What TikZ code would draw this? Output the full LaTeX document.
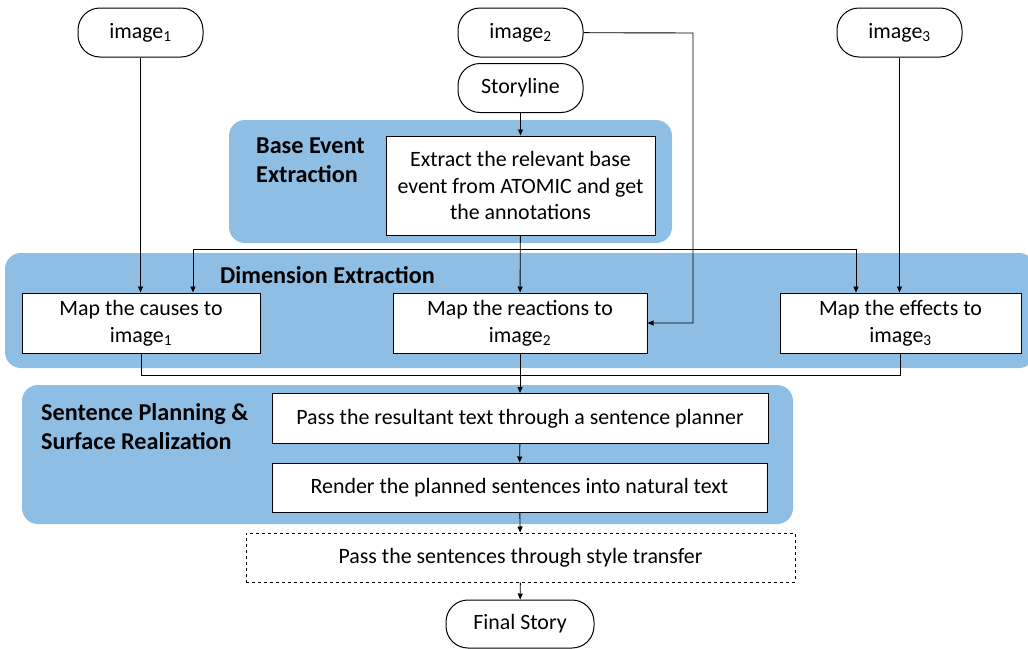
\documentclass[tikz,border=0pt]{standalone}
\usepackage{fontspec}
\setmainfont{Carlito}
\usetikzlibrary{arrows.meta}
\definecolor{regblue}{RGB}{142,190,228}
\tikzset{
  base/.style={font=\fontsize{21.9}{26.6}\selectfont, align=center, inner sep=0pt, line width=1pt},
  pill/.style={base, draw, fill=white, rounded corners=22pt, minimum width=125pt, minimum height=49pt},
  stepbox/.style={base, draw, fill=white},
  region/.style={fill=regblue, rounded corners=16pt, inner sep=0pt},
  lbl/.style={font=\fontsize{24.2}{29}\selectfont\bfseries, align=left, inner sep=0pt},
  arr/.style={line width=0.9pt, -{Triangle[length=6pt,width=5pt]}},
  ln/.style={line width=0.9pt}
}
\newcommand{\sub}[1]{\textsubscript{#1}}
\begin{document}
\begin{tikzpicture}[x=1pt,y=-1pt]
\useasboundingbox (0,0) rectangle (1028,648);
% regions
\node[region, minimum width=443pt, minimum height=123pt] (rbase) at (450.5,181.5) {};
\node[region, minimum width=1030pt, minimum height=115pt] (rdim) at (520,310.5) {};
\node[region, minimum width=771pt, minimum height=139pt] (rsent) at (407.5,454.5) {};
% region labels
\node[lbl, anchor=west] (lbase) at (256,160.5) {Base Event\\Extraction};
\node[lbl] (ldim) at (327.5,275) {Dimension Extraction};
\node[lbl, anchor=west] (lsent) at (41,427) {Sentence Planning \&\\Surface Realization};
% top pills
\node[pill] (img1) at (140.5,32.5) {image\sub{1}};
\node[pill] (img2) at (520.5,32.5) {image\sub{2}};
\node[pill] (img3) at (899.5,32.5) {image\sub{3}};
\node[pill] (story) at (520.5,88) {Storyline};
% boxes
\node[stepbox, minimum width=269pt, minimum height=99pt] (extract) at (520.5,185.5) {Extract the relevant base\\event from ATOMIC and get\\the annotations};
\node[stepbox, minimum width=238pt, minimum height=60pt] (causes) at (141,323) {Map the causes to\\image\sub{1}};
\node[stepbox, minimum width=254pt, minimum height=60pt] (reactions) at (520,323) {Map the reactions to\\image\sub{2}};
\node[stepbox, minimum width=241pt, minimum height=60pt] (effects) at (900.5,323) {Map the effects to\\image\sub{3}};
\node[stepbox, minimum width=496pt, minimum height=50pt] (planner) at (520,418.5) {Pass the resultant text through a sentence planner};
\node[stepbox, minimum width=495pt, minimum height=49pt] (render) at (519.5,487.5) {Render the planned sentences into natural text};
\node[stepbox, dashed, minimum width=549pt, minimum height=49pt] (style) at (520.5,557.5) {Pass the sentences through style transfer};
\node[pill, minimum width=148pt, minimum height=48pt] (final) at (520,624) {Final Story};
% connectors
\coordinate (hl) at (193,249);
\coordinate (hr) at (856,249);
\coordinate (c2) at (693,33);
\coordinate (bj) at (141,375);
\draw[arr] (story) -- (extract);
\draw[arr] (extract) -- (reactions);
\draw[ln] (hl) -- (hr);
\draw[arr] (hl) -- (hl |- causes.north);
\draw[arr] (hr) -- (hr |- effects.north);
\draw[arr] (img1) -- (img1 |- causes.north);
\draw[arr] (img3) -- (img3 |- effects.north);
\draw[arr] (img2) -- (c2) |- (reactions.east);
\draw[ln] (causes) -- (bj) -| (effects);
\draw[arr] (reactions) -- (planner);
\draw[arr] (planner) -- (render);
\draw[arr] (render) -- (style);
\draw[arr] (style) -- (final);
\end{tikzpicture}
\end{document}
